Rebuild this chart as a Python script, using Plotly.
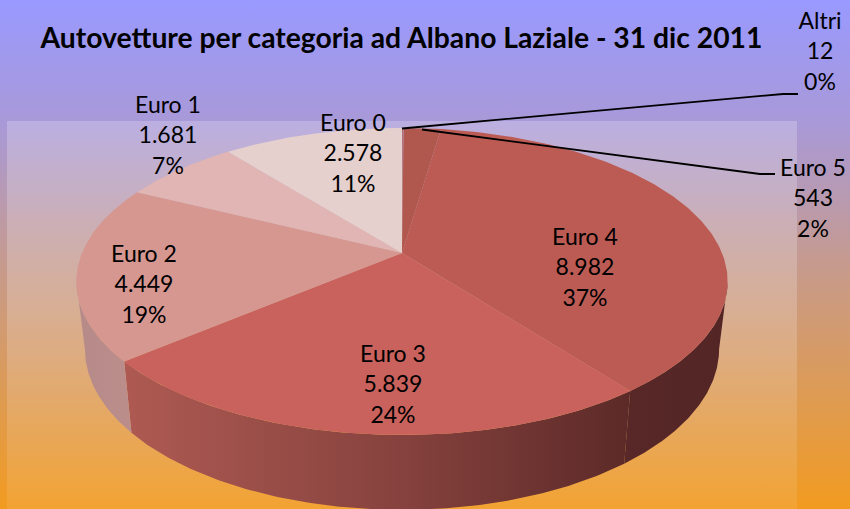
import numpy as np
import plotly.graph_objects as go

# ---- data (clockwise from 12 o'clock) ----
categories = ["Altri", "Euro 5", "Euro 4", "Euro 3", "Euro 2", "Euro 1", "Euro 0"]
values = [12, 543, 8982, 5839, 4449, 1681, 2578]
value_labels = ["12", "543", "8.982", "5.839", "4.449", "1.681", "2.578"]
percent_labels = ["0%", "2%", "37%", "24%", "19%", "7%", "11%"]
title_text = "Autovetture per categoria ad Albano Laziale - 31 dic 2011"

# ---- styles ----
top_colors = ["#b0584d", "#b0584d", "#bc5b54", "#c9625c", "#d59790", "#e0b5b3", "#e6d0ce"]
wall_scales = {
    "Euro 4": [[0, "#582828"], [1, "#542525"]],
    "Euro 3": [[0, "#ae5a52"], [0.5, "#8a4440"], [1, "#5c2a28"]],
    "Euro 2": [[0, "#b68a88"], [1, "#bb8e8c"]],
}
FONT = "Lato"
CX, CY, A, B, K = 402, 253, 320, 148.2, 0.1857
CY2, A2, B2 = 319, 311.6, 155.4


def rim(theta, cy=CY, a=A, b=B):
    u, v = np.sin(theta), -np.cos(theta)
    d = 1 - K * v
    return CX + a * u / d, cy + b * v / d


fig = go.Figure()


def poly(x, y, **kw):
    fig.add_trace(go.Scatter(x=x, y=y, mode="lines", fill="toself", line=dict(width=0),
                             hoverinfo="skip", showlegend=False, **kw))


# background gradients
poly([0, 850, 850, 0], [0, 0, 509, 509],
     fillgradient=dict(type="vertical", start=0, stop=509,
                       colorscale=[[0, "#9999ff"], [0.25, "#a999d6"], [0.5, "#c49a92"], [1, "#f29b20"]]))
poly([7, 797, 797, 7], [121, 121, 509, 509],
     fillgradient=dict(type="vertical", start=121, stop=509,
                       colorscale=[[0, "rgba(255,255,255,0.22)"], [0.5, "rgba(255,255,255,0.2)"],
                                   [1, "rgba(255,255,255,0.08)"]]))

# slice angles derived from the values
fractions = np.array(values, dtype=float) / sum(values)
edges = np.concatenate([[0], np.cumsum(fractions)]) * 2 * np.pi

# walls: visible between the two horizontal extremes of the rim
extreme = np.pi / 2 + np.arcsin(K)
WALL_FROM, WALL_TO = extreme, 2 * np.pi - extreme
for i, name in enumerate(categories):
    if name not in wall_scales:
        continue
    t0, t1 = max(edges[i], WALL_FROM), min(edges[i + 1], WALL_TO)
    th = np.linspace(t0, t1, 120)
    x1, y1 = rim(th)
    x2, y2 = rim(th[::-1], CY2, A2, B2)
    poly(np.concatenate([x1, x2]), np.concatenate([y1, y2]),
         fillgradient=dict(type="horizontal", colorscale=wall_scales[name]))

# top faces
for i, name in enumerate(categories):
    th = np.linspace(edges[i], edges[i + 1], 160)
    x, y = rim(th)
    poly(np.concatenate([[CX], x, [CX]]), np.concatenate([[CY], y, [CY]]), fillcolor=top_colors[i], name=name)

# leader lines
leader_x = {"Altri": [402, 783, 798], "Euro 5": [422, 760, 775]}
leader_y = {"Altri": [128.5, 94, 94], "Euro 5": [129.5, 174, 174]}
for k in leader_x:
    fig.add_trace(go.Scatter(x=leader_x[k], y=leader_y[k], mode="lines", line=dict(color="black", width=1.8),
                             hoverinfo="skip", showlegend=False))

# labels
label_pos = {"Euro 0": (353, 125), "Euro 1": (168, 107), "Euro 2": (144, 256), "Euro 3": (393, 356),
             "Euro 4": (585, 239), "Euro 5": (813, 170), "Altri": (820, 23)}
LINE = 30.5
lx, ly, lt = [], [], []
for i, name in enumerate(categories):
    px, py = label_pos[name]
    for j, t in enumerate([name, value_labels[i], percent_labels[i]]):
        lx.append(px)
        ly.append(py + j * LINE)
        lt.append(t)
fig.add_trace(go.Scatter(x=lx, y=ly, mode="text", text=lt, textposition="middle center",
                         textfont=dict(family=FONT, size=23, color="black"),
                         hoverinfo="skip", showlegend=False))
fig.add_trace(go.Scatter(x=[401.5], y=[41], mode="text", text=["<b>" + title_text + "</b>"],
                         textposition="middle center",
                         textfont=dict(family=FONT, size=28.3, color="black"),
                         hoverinfo="skip", showlegend=False))

fig.update_layout(width=850, height=509, margin=dict(l=0, r=0, t=0, b=0),
                  paper_bgcolor="#9999ff", plot_bgcolor="rgba(0,0,0,0)", showlegend=False,
                  xaxis=dict(range=[0, 850], visible=False, fixedrange=True),
                  yaxis=dict(range=[509, 0], visible=False, fixedrange=True))
fig.write_html("out.html", config=dict(displayModeBar=False),
               post_script="document.body.style.margin='0';")
